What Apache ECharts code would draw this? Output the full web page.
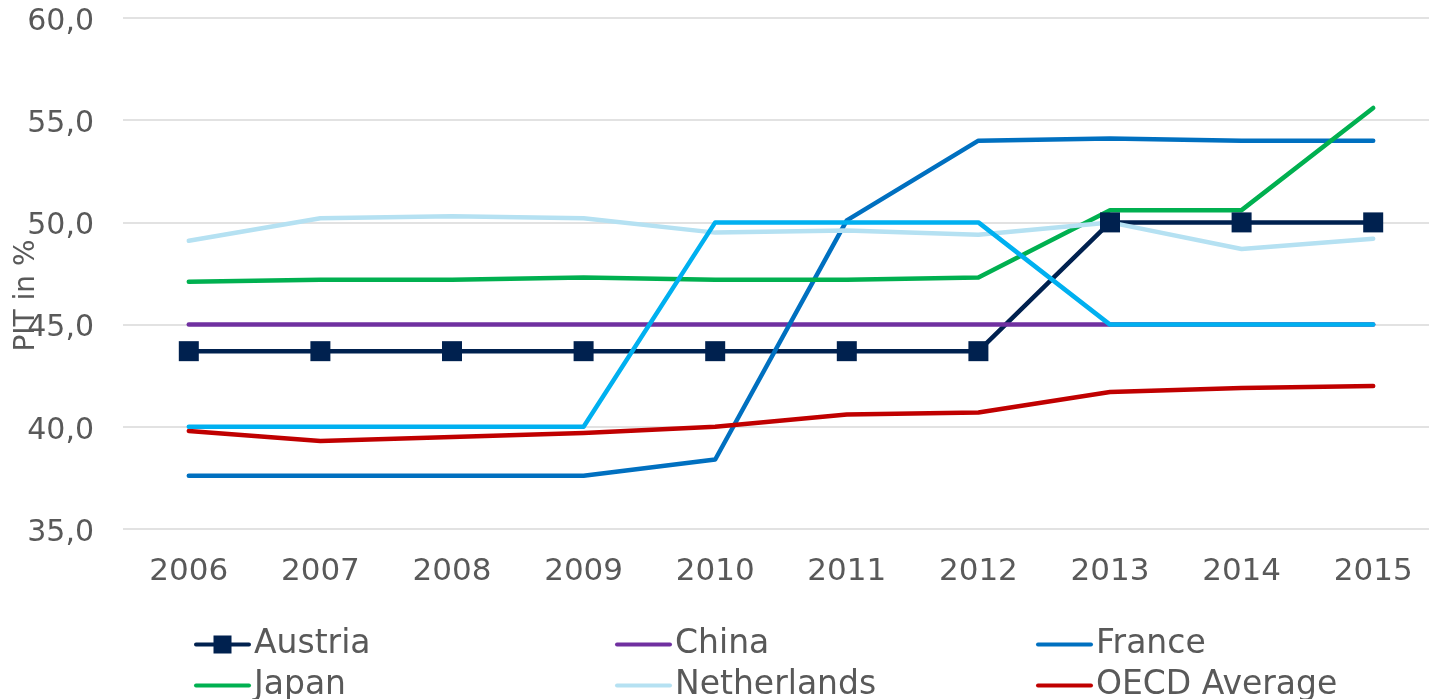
<!DOCTYPE html>
<html>
<head>
<meta charset="utf-8">
<title>PIT in %</title>
<script src="https://cdn.jsdelivr.net/npm/echarts@6/dist/echarts.min.js"></script>
<style>
  html, body { margin: 0; padding: 0; background: #ffffff; }
  #chart { width: 1429px; height: 699px; }
</style>
</head>
<body>
<div id="chart"></div>
<script>
// Top personal income tax rates, 2006-2015
const years = ['2006', '2007', '2008', '2009', '2010', '2011', '2012', '2013', '2014', '2015'];

const austria       = [43.7, 43.7, 43.7, 43.7, 43.7, 43.7, 43.7, 50.0, 50.0, 50.0];
const china         = [45.0, 45.0, 45.0, 45.0, 45.0, 45.0, 45.0, 45.0, 45.0, 45.0];
const france        = [37.6, 37.6, 37.6, 37.6, 38.4, 50.1, 54.0, 54.1, 54.0, 54.0];
const japan         = [47.1, 47.2, 47.2, 47.3, 47.2, 47.2, 47.3, 50.6, 50.6, 55.6];
const netherlands   = [49.1, 50.2, 50.3, 50.2, 49.5, 49.6, 49.4, 50.0, 48.7, 49.2];
const oecdAverage   = [39.8, 39.3, 39.5, 39.7, 40.0, 40.6, 40.7, 41.7, 41.9, 42.0];
const unitedKingdom = [40.0, 40.0, 40.0, 40.0, 50.0, 50.0, 50.0, 45.0, 45.0, 45.0];

const yMin = 35, yMax = 60, yStep = 5;

const FONT = '"DejaVu Sans", Verdana, sans-serif';
const TEXT = '#595959';

// Legend glyphs: a thick line in a 57x21 box, the Austria one with a square marker.
const LINE_ICON = 'path://M0,0 M2,8.5 h53 a2,2 0 0 1 0,4 h-53 a2,2 0 0 1 0,-4 Z M57,21';
const RECT_ICON = 'path://M0,0 M2,8.5 h53 a2,2 0 0 1 0,4 h-53 a2,2 0 0 1 0,-4 Z M19.5,1.5 h18 v18 h-18 Z M57,21';

function lineSeries(name, data, color, extra) {
  return Object.assign({
    name: name,
    type: 'line',
    data: data,
    symbol: 'none',
    showSymbol: false,
    lineStyle: { color: color, width: 4.5, cap: 'round', join: 'round' },
    itemStyle: { color: color },
    emphasis: { disabled: true },
    animation: false
  }, extra || {});
}

const chart = echarts.init(document.getElementById('chart'), null, { renderer: 'canvas' });

chart.setOption({
  backgroundColor: '#ffffff',
  animation: false,
  grid: { left: 123, right: -10, top: 18, bottom: 170, containLabel: false, outerBoundsMode: 'none' },
  legend: {
    left: 194,
    top: 624,
    width: 1280,
    orient: 'horizontal',
    padding: 0,
    itemGap: 0,
    itemWidth: 57,
    itemHeight: 21,
    selectedMode: false,
    textStyle: { fontFamily: FONT, fontSize: 33, color: TEXT, width: 361, lineHeight: 41, padding: [0, 0, 0, -2] },
    data: [
      { name: 'Austria', icon: RECT_ICON },
      { name: 'China', icon: LINE_ICON },
      { name: 'France', icon: LINE_ICON },
      { name: 'Japan', icon: LINE_ICON },
      { name: 'Netherlands', icon: LINE_ICON },
      { name: 'OECD Average', icon: LINE_ICON },
      { name: 'United Kingdom', icon: LINE_ICON }
    ]
  },
  xAxis: {
    type: 'category',
    data: years,
    boundaryGap: true,
    axisLine: { show: false },
    axisTick: { show: false },
    axisLabel: { fontFamily: FONT, fontSize: 31, color: TEXT, margin: 27 },
    splitLine: { show: false }
  },
  yAxis: {
    type: 'value',
    min: yMin,
    max: yMax,
    interval: yStep,
    name: 'PIT in %',
    nameLocation: 'middle',
    nameGap: 82,
    nameRotate: 90,
    nameMoveOverlap: false,
    nameTextStyle: { fontFamily: FONT, fontSize: 28, color: TEXT, padding: [0, 44, 0, 0] },
    axisLine: { show: false },
    axisTick: { show: false },
    axisLabel: {
      fontFamily: FONT, fontSize: 30, color: TEXT, margin: 29,
      verticalAlign: 'top', lineHeight: 34,
      formatter: v => v.toFixed(1).replace('.', ','),
      padding: [-13, 0, 0, 0]
    },
    splitLine: { lineStyle: { color: '#d9d9d9', width: 1.5 } }
  },
  series: [
    lineSeries('Austria', austria, '#00214f', {
      symbol: 'rect', showSymbol: true, symbolSize: 20,
      itemStyle: { color: '#00214f', borderRadius: 2 }
    }),
    lineSeries('China', china, '#7030a0'),
    lineSeries('France', france, '#0070c0'),
    lineSeries('Japan', japan, '#00b050'),
    lineSeries('Netherlands', netherlands, '#b5e1f2'),
    lineSeries('OECD Average', oecdAverage, '#c00000'),
    lineSeries('United Kingdom', unitedKingdom, '#00b0f0')
  ]
});
</script>
</body>
</html>
